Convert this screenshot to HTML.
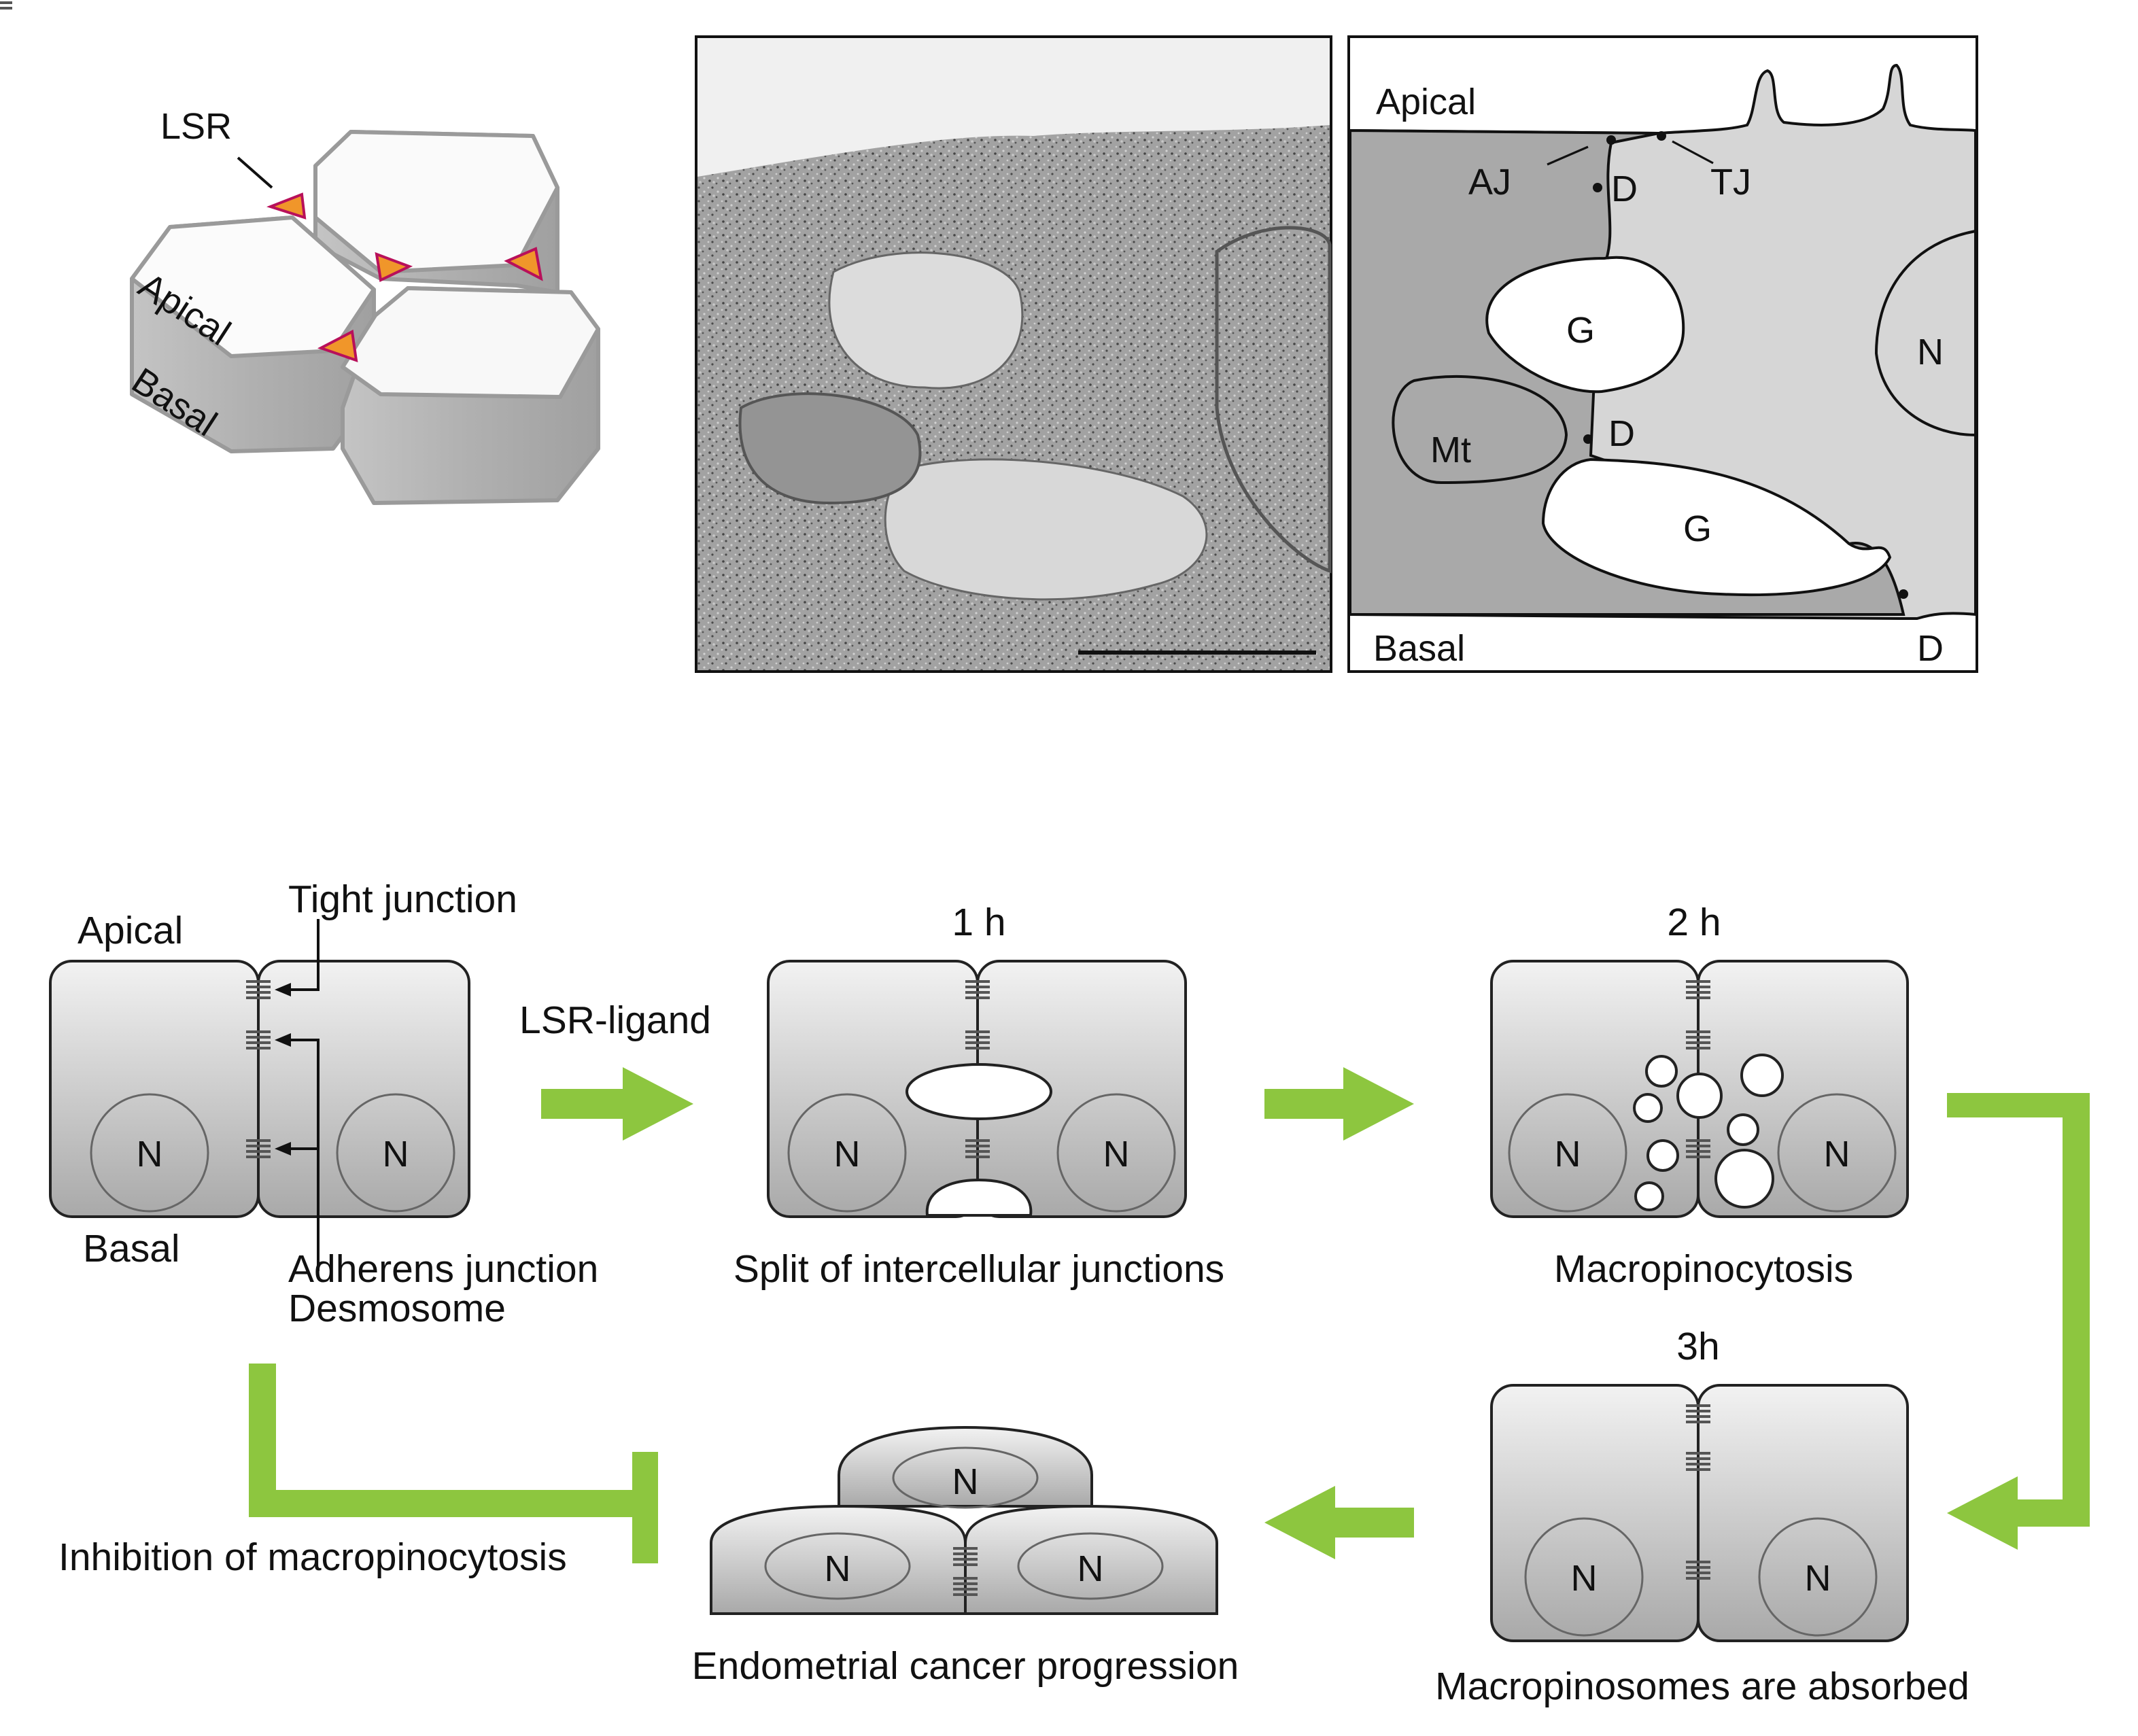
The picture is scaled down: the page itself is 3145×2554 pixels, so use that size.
<!DOCTYPE html>
<html><head><meta charset="utf-8"><style>
html,body{margin:0;padding:0;background:#fff}
svg{display:block}
text{font-family:"Liberation Sans",Arial,sans-serif;fill:#111}
</style></head><body>
<svg width="3145" height="2554" viewBox="0 0 1572.5 1277" xmlns="http://www.w3.org/2000/svg">
<defs>
<linearGradient id="cg" x1="0" y1="0" x2="0" y2="1"><stop offset="0" stop-color="#f2f2f2"/><stop offset="1" stop-color="#a9a9a9"/></linearGradient>
<linearGradient id="sg" x1="0" y1="0" x2="1" y2="0"><stop offset="0" stop-color="#c4c4c4"/><stop offset="0.5" stop-color="#b0b0b0"/><stop offset="1" stop-color="#a0a0a0"/></linearGradient>
<pattern id="noise" width="10" height="10" patternUnits="userSpaceOnUse">
<rect width="10" height="10" fill="#a2a2a2"/>
<circle cx="2" cy="3" r="0.9" fill="#444"/><circle cx="7" cy="5" r="0.7" fill="#555"/><circle cx="4" cy="8" r="0.8" fill="#4a4a4a"/><circle cx="8" cy="1" r="0.8" fill="#d2d2d2"/><circle cx="5" cy="4" r="0.9" fill="#c8c8c8"/><circle cx="1" cy="8" r="0.7" fill="#cfcfcf"/>
</pattern>
</defs>

<!-- 3D hex cells -->
<g stroke="#9a9a9a" stroke-width="3" stroke-linejoin="round">
<path d="M232,122 L258,97 L392,100 L410,138 L410,215 L380,210 L280,205 L232,180 Z" fill="url(#sg)"/>
<path d="M232,122 L258,97 L392,100 L410,138 L380,195 L280,200 L232,160 Z" fill="#fafafa"/>
<path d="M97,205 L125,167 L215,160 L275,213 L275,290 L245,330 L170,332 L97,290 Z" fill="url(#sg)"/>
<path d="M97,205 L125,167 L215,160 L275,213 L245,258 L170,262 Z" fill="#fbfbfb"/>
<path d="M276,232 L300,212 L420,215 L440,242 L440,330 L410,368 L275,370 L252,330 L252,300 Z" fill="url(#sg)"/>
<path d="M276,232 L300,212 L420,215 L440,242 L412,292 L280,290 L252,270 Z" fill="#f8f8f8"/>
</g>
<g stroke="#b8105a" stroke-width="2">
<polygon points="199,152 222,143 224,160" fill="#f0962a"/>
<polygon points="277,187 301,196 280,206" fill="#f0962a"/>
<polygon points="373,192 394,183 398,205" fill="#f0962a"/>
<polygon points="236,256 259,244 262,265" fill="#f0962a"/>
</g>
<line x1="175" y1="116" x2="200" y2="138" stroke="#111" stroke-width="2"/>
<text x="118" y="102" font-size="27">LSR</text>
<text x="100" y="215" font-size="27" transform="rotate(33 100 215)">Apical</text>
<text x="95" y="285" font-size="27" transform="rotate(33 95 285)">Basal</text>

<!-- EM photo -->
<rect x="512" y="27" width="467" height="467" fill="url(#noise)" stroke="#111" stroke-width="2"/>
<path d="M513,28 L978,28 L978,92 C900,98 820,95 760,100 C700,98 620,112 513,130 Z" fill="#f0f0f0"/>
<path d="M613,200 C660,175 740,185 750,215 C760,260 730,290 680,285 C630,285 600,250 613,200 Z" fill="#dcdcdc" stroke="#666" stroke-width="1.5"/>
<path d="M665,345 C720,330 820,340 870,365 C900,385 890,420 850,430 C780,450 700,440 665,420 C645,400 648,360 665,345 Z" fill="#d8d8d8" stroke="#666" stroke-width="1.5"/>
<path d="M545,300 C580,280 660,290 675,320 C685,360 650,370 610,370 C560,370 540,340 545,300 Z" fill="#949494" stroke="#555" stroke-width="2"/>
<path d="M895,185 C930,160 975,165 978,180 L978,420 C950,410 900,360 895,300 Z" fill="none" stroke="#555" stroke-width="2.5"/>
<line x1="793" y1="480" x2="968" y2="480" stroke="#111" stroke-width="3"/>

<!-- Schematic -->
<rect x="992" y="27" width="462" height="467" fill="#fff" stroke="#111" stroke-width="2"/>
<path d="M993,96 L1220,98 C1250,96 1270,96 1285,92 C1292,80 1290,55 1300,52 C1308,55 1302,82 1312,90 C1350,95 1375,90 1385,80 C1392,65 1388,48 1395,48 C1402,55 1396,80 1405,92 C1420,96 1440,95 1453,96 L1453,452 C1430,450 1420,452 1410,455 L1400,455 L993,452 Z" fill="#d6d6d6" stroke="#111" stroke-width="2"/>
<path d="M993,96 L1220,98 L1185,105 C1178,140 1190,170 1180,195 L1172,290 L1170,335 L1360,400 C1385,395 1395,430 1400,452 L993,452 Z" fill="#a9a9a9" stroke="#111" stroke-width="2"/>
<path d="M1453,170 C1400,180 1380,220 1380,260 C1385,300 1420,320 1453,320 Z" fill="#d6d6d6" stroke="#111" stroke-width="2"/>
<path d="M1180,190 C1215,185 1240,210 1238,245 C1236,275 1200,285 1178,288 C1150,290 1110,270 1095,245 C1085,210 1130,190 1180,190 Z" fill="#fff" stroke="#111" stroke-width="2"/>
<path d="M1170,338 C1230,340 1300,345 1360,400 C1375,410 1385,395 1390,410 C1380,430 1330,440 1265,437 C1200,435 1140,410 1135,385 C1135,360 1150,340 1170,338 Z" fill="#fff" stroke="#111" stroke-width="2"/>
<path d="M1040,280 C1090,270 1150,285 1152,320 C1150,350 1110,355 1060,355 C1020,355 1015,290 1040,280 Z" fill="#a9a9a9" stroke="#111" stroke-width="2"/>
<g fill="#111"><circle cx="1175" cy="138" r="3.5"/><circle cx="1168" cy="323" r="3.5"/><circle cx="1400" cy="437" r="3.5"/><circle cx="1222" cy="100" r="3.5"/><circle cx="1185" cy="103" r="3.5"/></g>
<g stroke="#111" stroke-width="1.6"><line x1="1138" y1="121" x2="1168" y2="108"/><line x1="1260" y1="120" x2="1230" y2="104"/></g>
<g font-size="27">
<text x="1012" y="84">Apical</text><text x="1080" y="143">AJ</text><text x="1185" y="148">D</text><text x="1258" y="143">TJ</text>
<text x="1152" y="252">G</text><text x="1410" y="268">N</text><text x="1052" y="340">Mt</text><text x="1183" y="328">D</text>
<text x="1238" y="398">G</text><text x="1010" y="486">Basal</text><text x="1410" y="486">D</text>
</g>

<!-- bottom cells -->
<g stroke="#222" stroke-width="2" fill="url(#cg)">
<rect x="37" y="707" width="153" height="188" rx="16"/><rect x="190" y="707" width="155" height="188" rx="16"/>
<rect x="565" y="707" width="154" height="188" rx="16"/><rect x="719" y="707" width="153" height="188" rx="16"/>
<rect x="1097" y="707" width="152" height="188" rx="16"/><rect x="1249" y="707" width="154" height="188" rx="16"/>
<rect x="1097" y="1019" width="152" height="188" rx="16"/><rect x="1249" y="1019" width="154" height="188" rx="16"/>
<path d="M617,1108 L617,1085 C617,1060 660,1050 710,1050 C760,1050 803,1060 803,1085 L803,1108 Z"/>
<path d="M523,1187 L523,1135 C523,1115 570,1108 620,1108 C680,1108 710,1115 710,1135 L710,1187 Z"/>
<path d="M710,1187 L710,1135 C710,1115 740,1108 800,1108 C850,1108 895,1115 895,1135 L895,1187 Z"/>
</g>
<g fill="none" stroke="#666" stroke-width="1.5">
<circle cx="110" cy="848" r="43"/><circle cx="291" cy="848" r="43"/>
<circle cx="623" cy="848" r="43"/><circle cx="821" cy="848" r="43"/>
<circle cx="1153" cy="848" r="43"/><circle cx="1351" cy="848" r="43"/>
<circle cx="1165" cy="1160" r="43"/><circle cx="1337" cy="1160" r="43"/>
<ellipse cx="710" cy="1087" rx="53" ry="22"/><ellipse cx="616" cy="1152" rx="53" ry="24"/><ellipse cx="802" cy="1152" rx="53" ry="24"/>
</g>
<g font-size="27" text-anchor="middle">
<text x="110" y="858">N</text><text x="291" y="858">N</text><text x="623" y="858">N</text><text x="821" y="858">N</text>
<text x="1153" y="858">N</text><text x="1351" y="858">N</text><text x="1165" y="1170">N</text><text x="1337" y="1170">N</text>
<text x="710" y="1099">N</text><text x="616" y="1163">N</text><text x="802" y="1163">N</text>
</g>
<g stroke="#555" stroke-width="2">
<g id="j"><line x1="-9" y1="-6" x2="9" y2="-6"/><line x1="-9" y1="-2" x2="9" y2="-2"/><line x1="-9" y1="2" x2="9" y2="2"/><line x1="-9" y1="6" x2="9" y2="6"/></g>
<use href="#j" x="190" y="728"/><use href="#j" x="190" y="765"/><use href="#j" x="190" y="845"/>
<use href="#j" x="719" y="728"/><use href="#j" x="719" y="765"/><use href="#j" x="719" y="845"/>
<use href="#j" x="1249" y="728"/><use href="#j" x="1249" y="765"/><use href="#j" x="1249" y="845"/>
<use href="#j" x="1249" y="1040"/><use href="#j" x="1249" y="1075"/><use href="#j" x="1249" y="1155"/>
<use href="#j" x="710" y="1145"/><use href="#j" x="710" y="1167"/>
</g>
<g fill="#fff" stroke="#222" stroke-width="2">
<ellipse cx="720" cy="803" rx="53" ry="20"/>
<path d="M682,894 C680,875 700,868 720,868 C745,868 760,878 758,894 Z"/>
<circle cx="1222" cy="788" r="11"/><circle cx="1296" cy="791" r="15"/><circle cx="1250" cy="806" r="16"/><circle cx="1212" cy="815" r="10"/><circle cx="1282" cy="831" r="11"/><circle cx="1223" cy="850" r="11"/><circle cx="1283" cy="867" r="21"/><circle cx="1213" cy="880" r="10"/>
</g>
<g stroke="#111" stroke-width="2" fill="none">
<polyline points="234,676 234,728 210,728"/><polyline points="234,935 234,765 210,765"/><line x1="234" y1="845" x2="210" y2="845"/>
</g>
<g fill="#111"><polygon points="202,728 214,723 214,733"/><polygon points="202,765 214,760 214,770"/><polygon points="202,845 214,840 214,850"/></g>
<g fill="#8dc63f">
<polygon points="398,801 458,801 458,785 510,812 458,839 458,823 398,823"/>
<polygon points="930,801 988,801 988,785 1040,812 988,839 988,823 930,823"/>
<polygon points="1432,804 1537,804 1537,1123 1484,1123 1484,1140 1432,1113 1484,1086 1484,1103 1517,1103 1517,822 1432,822"/>
<polygon points="1040,1109 982,1109 982,1093 930,1120 982,1147 982,1131 1040,1131"/>
<polygon points="183,1003 203,1003 203,1096 465,1096 465,1068 484,1068 484,1150 465,1150 465,1116 183,1116"/>
</g>
<g font-size="28.5">
<text x="212" y="671">Tight junction</text><text x="57" y="694">Apical</text><text x="382" y="760">LSR-ligand</text>
<text x="61" y="928">Basal</text><text x="212" y="943">Adherens junction</text><text x="212" y="972">Desmosome</text>
<text x="43" y="1155">Inhibition of macropinocytosis</text>
</g>
<g font-size="28.5" text-anchor="middle">
<text x="720" y="688">1 h</text><text x="1246" y="688">2 h</text><text x="1249" y="1000">3h</text>
<text x="720" y="943">Split of intercellular junctions</text><text x="1253" y="943">Macropinocytosis</text>
<text x="710" y="1235">Endometrial cancer progression</text><text x="1252" y="1250">Macropinosomes are absorbed</text>
</g>
</svg>
</body></html>
